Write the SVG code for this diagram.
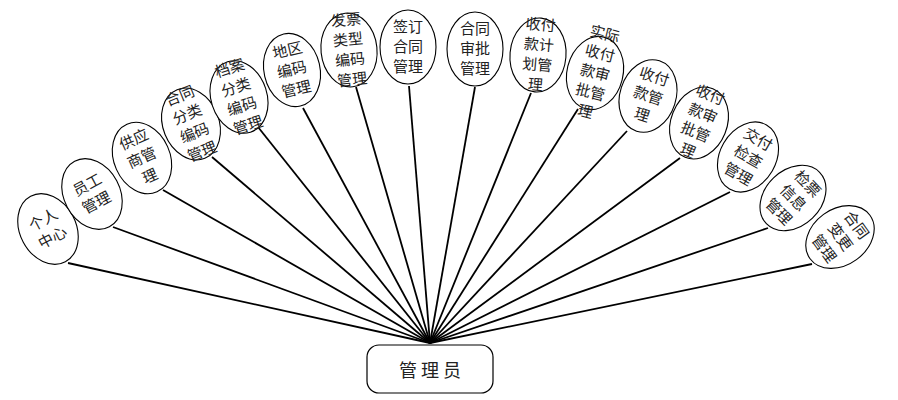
<svg xmlns="http://www.w3.org/2000/svg" width="898" height="400" viewBox="0 0 898 400">
<style>
.n ellipse{fill:#fff;stroke:#000;stroke-width:1.1}
.n text{font-family:"Noto Sans CJK SC","Noto Sans CJK JP",sans-serif;font-size:15px;fill:#222;text-anchor:middle}
#edges line{stroke:#000;stroke-width:1.8}
.hub rect{fill:#fff;stroke:#000;stroke-width:1.2}
.hub text{font-family:"Noto Sans CJK SC",sans-serif;font-size:18px;fill:#222;text-anchor:middle;letter-spacing:4px}
</style>
<rect width="898" height="400" fill="#fff"/>
<g id="edges">
<line x1="430" y1="343" x2="68" y2="263"/>
<line x1="430" y1="343" x2="113" y2="227"/>
<line x1="430" y1="343" x2="163" y2="190"/>
<line x1="430" y1="343" x2="212" y2="157"/>
<line x1="430" y1="343" x2="258" y2="127"/>
<line x1="430" y1="343" x2="303" y2="108"/>
<line x1="430" y1="343" x2="356" y2="87"/>
<line x1="430" y1="343" x2="409" y2="86"/>
<line x1="430" y1="343" x2="475" y2="87"/>
<line x1="430" y1="343" x2="531" y2="93"/>
<line x1="430" y1="343" x2="578" y2="109"/>
<line x1="430" y1="343" x2="627" y2="131"/>
<line x1="430" y1="343" x2="680" y2="158"/>
<line x1="430" y1="343" x2="730" y2="192"/>
<line x1="430" y1="343" x2="768" y2="228"/>
<line x1="430" y1="343" x2="812" y2="264"/>
</g>
<g id="n1" class="n" transform="translate(48,229) rotate(-28)"><ellipse rx="28" ry="37"/><text y="-5">个人</text><text y="15">中心</text></g>
<g id="n2" class="n" transform="translate(92,194) rotate(-28)"><ellipse rx="28" ry="37"/><text y="-5">员工</text><text y="15">管理</text></g>
<g id="n3" class="n" transform="translate(142,158) rotate(-24)"><ellipse rx="28" ry="37"/><text y="-15">供应</text><text y="5">商管</text><text y="25">理</text></g>
<g id="n4" class="n" transform="translate(191,124) rotate(-22)"><ellipse rx="28" ry="37"/><text y="-25">合同</text><text y="-5">分类</text><text y="15">编码</text><text y="35">管理</text></g>
<g id="n5" class="n" transform="translate(239,97) rotate(-18)"><ellipse rx="28" ry="37"/><text y="-25">档案</text><text y="-5">分类</text><text y="15">编码</text><text y="35">管理</text></g>
<g id="n6" class="n" transform="translate(292,70) rotate(-13)"><ellipse rx="28" ry="37"/><text y="-15">地区</text><text y="5">编码</text><text y="25">管理</text></g>
<g id="n7" class="n" transform="translate(349,50) rotate(-6)"><ellipse rx="28" ry="37"/><text y="-25">发票</text><text y="-5">类型</text><text y="15">编码</text><text y="35">管理</text></g>
<g id="n8" class="n" transform="translate(408,47)"><ellipse rx="28" ry="37"/><text y="-15">签订</text><text y="5">合同</text><text y="25">管理</text></g>
<g id="n9" class="n" transform="translate(475,49)"><ellipse rx="28" ry="37"/><text y="-15">合同</text><text y="5">审批</text><text y="25">管理</text></g>
<g id="n10" class="n" transform="translate(538,55) rotate(5)"><ellipse rx="28" ry="37"/><text y="-25">收付</text><text y="-5">款计</text><text y="15">划管</text><text y="35">理</text></g>
<g id="n11" class="n" transform="translate(595,73) rotate(14)"><ellipse rx="28" ry="37"/><text y="-35">实际</text><text y="-15">收付</text><text y="5">款审</text><text y="25">批管</text><text y="45">理</text></g>
<g id="n12" class="n" transform="translate(648,96) rotate(18)"><ellipse rx="28" ry="37"/><text y="-15">收付</text><text y="5">款管</text><text y="25">理</text></g>
<g id="n13" class="n" transform="translate(699,123) rotate(22)"><ellipse rx="28" ry="37"/><text y="-25">收付</text><text y="-5">款审</text><text y="15">批管</text><text y="35">理</text></g>
<g id="n14" class="n" transform="translate(748,157) rotate(30)"><ellipse rx="28" ry="37"/><text y="-15">交付</text><text y="5">检查</text><text y="25">管理</text></g>
<g id="n15" class="n" transform="translate(793,198) rotate(46)"><ellipse rx="28" ry="37"/><text y="-15">检票</text><text y="5">信息</text><text y="25">管理</text></g>
<g id="n16" class="n" transform="translate(840,237) rotate(54)"><ellipse rx="28" ry="37"/><text y="-15">合同</text><text y="5">变更</text><text y="25">管理</text></g>
<g id="hub" class="hub"><rect x="367" y="345" width="126" height="48" rx="12"/><text x="432" y="377">管理员</text></g>
</svg>
